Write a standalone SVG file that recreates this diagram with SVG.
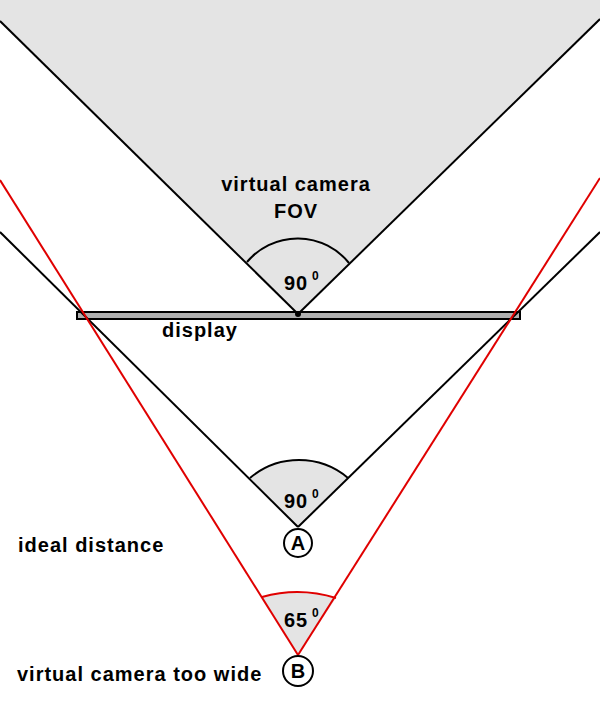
<svg xmlns="http://www.w3.org/2000/svg" width="600" height="709" viewBox="0 0 600 709">
<style>
.t{font-family:"Liberation Sans",Arial,sans-serif;font-weight:bold;font-size:20px;letter-spacing:1px;fill:#000}
.s{font-family:"Liberation Sans",Arial,sans-serif;font-weight:bold;font-size:12px;fill:#000}
.k{stroke:#000;stroke-width:2;fill:none}
.r{stroke:#e00000;stroke-width:2;fill:none}
.g{fill:#e4e4e4}
</style>
<rect width="600" height="709" fill="#fff"/>
<g id="fov-area">
<polygon class="g" points="0,0 0,21 298,314 600,19 600,0"/>
</g>
<g id="display">
<rect x="77" y="312" width="443" height="7" fill="#b0b0b0" stroke="#000" stroke-width="2"/>
<text class="t" x="162" y="337">display</text>
</g>
<g id="wedges">
<path class="g" d="M298,527 L250,478 A76,76 0 0 1 348,478 Z"/>
<path class="g" d="M298,655 L262,597 A130,130 0 0 1 336,598 Z"/>
</g>
<g id="connectors">
<line class="k" x1="0" y1="21" x2="298" y2="314"/>
<line class="k" x1="600" y1="19" x2="298" y2="314"/>
<line class="k" x1="0" y1="232" x2="298" y2="527"/>
<line class="k" x1="600" y1="232" x2="298" y2="527"/>
<line class="r" x1="0" y1="180" x2="298" y2="655"/>
<line class="r" x1="600" y1="178" x2="298" y2="655"/>
<path class="k" d="M247,262 A66,66 0 0 1 349,263"/>
<path class="k" d="M250,478 A76,76 0 0 1 348,478"/>
<path class="r" d="M262,597 A130,130 0 0 1 336,598"/>
<circle cx="298" cy="314" r="3" fill="#000"/>
</g>
<g id="fov-label">
<text class="t" x="296" y="191" text-anchor="middle">virtual camera</text>
<text class="t" x="296" y="218" text-anchor="middle">FOV</text>
<text class="t" x="284" y="290">90</text>
<text class="s" x="312" y="280">0</text>
</g>
<g id="angle-a">
<text class="t" x="284" y="508">90</text>
<text class="s" x="312" y="498">0</text>
</g>
<g id="angle-b">
<text class="t" x="284" y="627">65</text>
<text class="s" x="312" y="617">0</text>
</g>
<g id="node-a">
<circle cx="298" cy="543" r="14" fill="#fff" stroke="#000" stroke-width="2"/>
<text class="t" x="298" y="550" text-anchor="middle" style="letter-spacing:0">A</text>
<text class="t" x="18" y="552">ideal distance</text>
</g>
<g id="node-b">
<circle cx="298" cy="671" r="15" fill="#fff" stroke="#000" stroke-width="2"/>
<text class="t" x="298" y="678" text-anchor="middle" style="letter-spacing:0">B</text>
<text class="t" x="17" y="681">virtual camera too wide</text>
</g>
</svg>
